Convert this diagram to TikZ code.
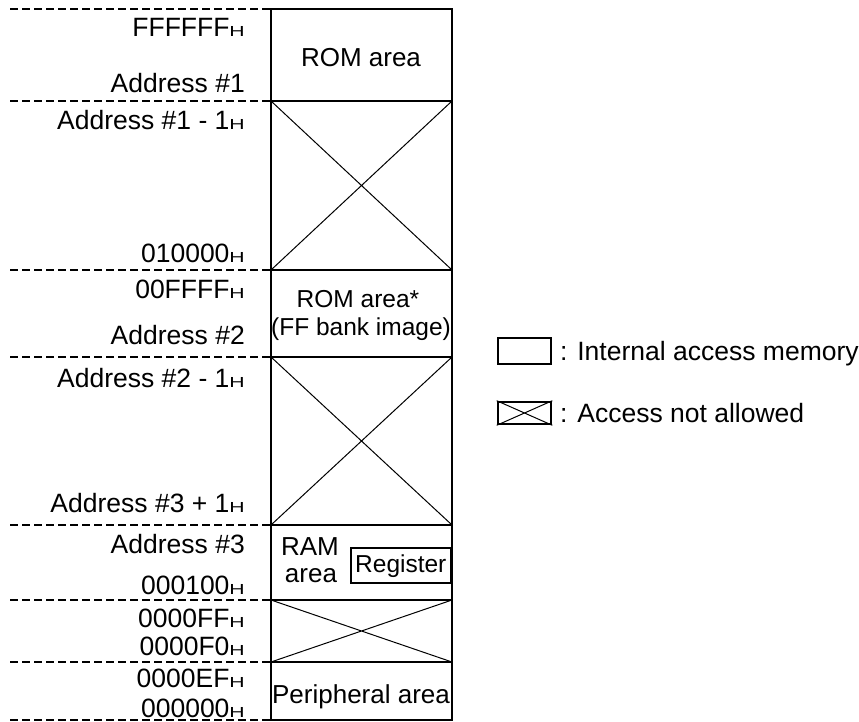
\documentclass[tikz,border=0pt]{standalone}
\usepackage{fontspec}
\setmainfont{Liberation Sans}
\usepackage{graphicx}
\usepackage{tikz}
\usetikzlibrary{positioning}

% small "H" suffix of the hex addresses
\newcommand{\hsuf}{\scalebox{0.8}[0.55]{H}}

\tikzset{
	addr/.style={anchor=base east, inner sep=0pt, font=\fontsize{26.5}{28}\selectfont},
	inarea/.style={anchor=base, inner sep=0pt, font=\fontsize{26}{28}\selectfont},
	small/.style={anchor=base, inner sep=0pt, font=\fontsize{24.5}{26}\selectfont},
	frame/.style={draw, line width=2.6pt},
	nogo/.style={line width=1pt},
	bound/.style={line width=2.4pt, dash pattern=on 8pt off 4pt},
}

\begin{document}
\begin{tikzpicture}[x=1pt, y=-1pt]
	\useasboundingbox (0,0) rectangle (859,722);
	% boundaries between the areas
	\foreach \y in {9,101,270,357,525,600,662,720}
		\draw[bound] (10,\y) -- (271,\y);
	%
	\draw[frame] (271,9) rectangle (452,101);
	\node[inarea] (rom) at (361,67) {ROM area};
	%
	\draw[frame] (271,101) rectangle (452,270);
	\draw[nogo] (271,101) -- (452,270) (271,270) -- (452,101);
	%
	\draw[frame] (271,270) rectangle (452,357);
	\node[small] (romimg) at (358,307) {ROM area*};
	\node[small] (bank) at (361,335) {(FF bank image)};
	%
	\draw[frame] (271,357) rectangle (452,525);
	\draw[nogo] (271,357) -- (452,525) (271,525) -- (452,357);
	%
	\draw[frame] (271,525) rectangle (452,600);
	\node[inarea] (ram) at (310,555) {RAM};
	\node[inarea] (ramb) at (311,582) {area};
	\node[draw, line width=2.4pt, anchor=north east, minimum width=100pt, minimum height=35pt, inner sep=0pt, font=\fontsize{24.5}{26}\selectfont] (reg) at (452,547) {Register};
	%
	\draw[frame] (271,600) rectangle (452,662);
	\draw[nogo] (271,600) -- (452,662) (271,662) -- (452,600);
	%
	\draw[frame] (271,662) rectangle (452,720);
	\node[inarea] (peri) at (361,703) {Peripheral area};
	%
	% addresses
	\node[addr] (a1) at (245,37) {FFFFFF\hsuf};
	\node[addr] (a2) at (245,93) {Address \#1};
	\node[addr] (a3) at (245,130) {Address \#1 - 1\hsuf};
	\node[addr] (a4) at (245,262) {010000\hsuf};
	\node[addr] (a5) at (245,298) {00FFFF\hsuf};
	\node[addr] (a6) at (245,344) {Address \#2};
	\node[addr] (a7) at (245,387) {Address \#2 - 1\hsuf};
	\node[addr] (a8) at (245,512) {Address \#3 + 1\hsuf};
	\node[addr] (a9) at (245,553) {Address \#3};
	\node[addr] (a10) at (245,594) {000100\hsuf};
	\node[addr] (a11) at (245,627) {0000FF\hsuf};
	\node[addr] (a12) at (245,655) {0000F0\hsuf};
	\node[addr] (a13) at (245,687) {0000EF\hsuf};
	\node[addr] (a14) at (245,717) {000000\hsuf};
	%
	% legend
	\node[frame, minimum width=53pt, minimum height=26pt, inner sep=0pt] (lgmem) at (524.5,351) {};
	\node[anchor=base west, inner sep=0pt, font=\fontsize{26.5}{28}\selectfont] (lgmemtxt) at (560,360) {: Internal access memory};
	\node[frame, minimum width=53pt, minimum height=22pt, inner sep=0pt] (lgno) at (524.5,413) {};
	\draw[nogo] (lgno.north west) -- (lgno.south east) (lgno.south west) -- (lgno.north east);
	\node[anchor=base west, inner sep=0pt, font=\fontsize{26.5}{28}\selectfont] (lgnotxt) at (560,422) {: Access not allowed};
\end{tikzpicture}
\end{document}
